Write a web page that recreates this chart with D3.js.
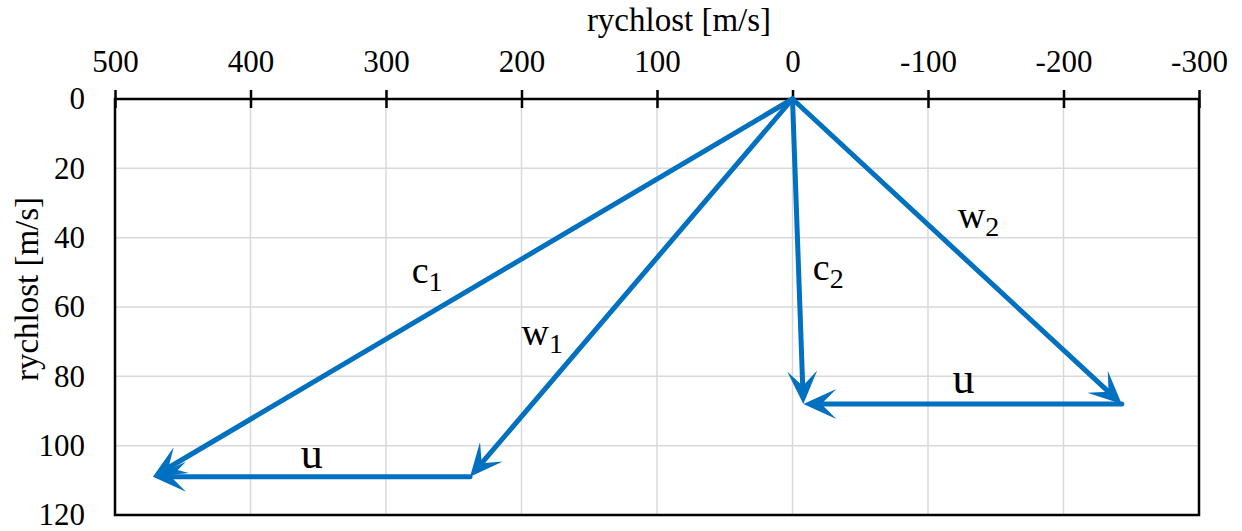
<!DOCTYPE html>
<html>
<head>
<meta charset="utf-8">
<script src="https://cdn.jsdelivr.net/npm/d3@7"></script>
<style>
  body { margin: 0; background: #fff; }
  svg { display: block; font-family: "Liberation Serif", "Times New Roman", serif; }
  svg text { font-family: "Liberation Serif", "Times New Roman", serif; }
</style>
</head>
<body>
<div id="chart"></div>
<script>
// axis ticks
const xTicks = [500, 400, 300, 200, 100, 0, -100, -200, -300];
const yTicks = [0, 20, 40, 60, 80, 100, 120];

// vectors [x1, y1, x2, y2]
const vectorNames = ["c1", "w1", "u1", "c2", "w2", "u2"];
const vectorX1 = [0, 0, 238, 0, 0, -243];
const vectorY1 = [0, 0, 109, 0, 0, 88];
const vectorX2 = [472, 238, 472, -8, -243, -8];
const vectorY2 = [109, 109, 109, 88, 88, 88];

// text labels
const labelMain = ["c", "w", "u", "c", "w", "u"];
const labelSub = ["1", "1", "", "2", "2", ""];
const labelX = [281, 200, 363, -15, -122, -118];
const labelY = [53, 71, 106.4, 52.2, 37.2, 84.8];

const W = 1242, H = 531;
const margin = {top: 99, right: 43, bottom: 16, left: 115};
const blue = "#0070c0";
const serif = "'Liberation Serif', 'Times New Roman', serif";

const svg = d3.select("#chart").append("svg")
    .attr("width", W)
    .attr("height", H);

const x = d3.scaleLinear().domain([500, -300]).range([margin.left, W - margin.right]);
const y = d3.scaleLinear().domain([0, 120]).range([margin.top, H - margin.bottom]);

// grid
svg.append("g").selectAll("line.vg")
    .data(xTicks.slice(1, -1))
    .enter().append("line")
    .attr("x1", d => x(d)).attr("x2", d => x(d))
    .attr("y1", y(0)).attr("y2", y(120))
    .attr("stroke", "#d9d9d9").attr("stroke-width", 1.5);

svg.append("g").selectAll("line.hg")
    .data(yTicks.slice(1, -1))
    .enter().append("line")
    .attr("x1", x(500)).attr("x2", x(-300))
    .attr("y1", d => y(d)).attr("y2", d => y(d))
    .attr("stroke", "#d9d9d9").attr("stroke-width", 1.5);

// frame
svg.append("rect")
    .attr("x", x(500)).attr("y", y(0))
    .attr("width", x(-300) - x(500))
    .attr("height", y(120) - y(0))
    .attr("fill", "none")
    .attr("stroke", "#000")
    .attr("stroke-width", 2.5);

// top axis
const xAxis = svg.append("g")
    .attr("transform", `translate(0,${y(0)})`)
    .call(d3.axisTop(x).tickValues(xTicks).tickSize(9).tickPadding(18).tickFormat(d => String(d)))
    .attr("font-family", serif)
    .attr("font-size", 31);
xAxis.select(".domain").remove();
xAxis.selectAll("line").attr("stroke", "#000").attr("stroke-width", 2.5);
xAxis.selectAll("text").attr("fill", "#000");

const xAxisIn = svg.append("g")
    .attr("transform", `translate(0,${y(0)})`)
    .call(d3.axisTop(x).tickValues(xTicks).tickSize(-9).tickFormat(""));
xAxisIn.select(".domain").remove();
xAxisIn.selectAll("line").attr("stroke", "#000").attr("stroke-width", 2.5);

// left axis
const yAxis = svg.append("g")
    .attr("transform", `translate(${x(500)},0)`)
    .call(d3.axisLeft(y).tickValues(yTicks).tickSize(0).tickPadding(30))
    .attr("font-family", serif)
    .attr("font-size", 31);
yAxis.select(".domain").remove();
yAxis.selectAll("text").attr("fill", "#000");

// axis titles
svg.append("text")
    .attr("x", 679).attr("y", 31)
    .attr("text-anchor", "middle")
    .attr("font-size", 33)
    .text("rychlost [m/s]");

svg.append("text")
    .attr("transform", `translate(38,${289}) rotate(-90)`)
    .attr("text-anchor", "middle")
    .attr("font-size", 33)
    .text("rychlost [m/s]");

// arrow head
svg.append("defs").append("marker")
    .attr("id", "arrow")
    .attr("markerUnits", "userSpaceOnUse")
    .attr("viewBox", "-34 -17 36 34")
    .attr("refX", -16).attr("refY", 0)
    .attr("markerWidth", 36).attr("markerHeight", 34)
    .attr("orient", "auto")
    .append("path")
    .attr("d", "M0,0 L-33,-15 L-18,0 L-33,15 Z")
    .attr("fill", blue);

const vectors = vectorNames.map((n, i) => ({
    name: n, x1: vectorX1[i], y1: vectorY1[i], x2: vectorX2[i], y2: vectorY2[i]
}));

// shorten each line so its end sits inside the arrow head
function endPoint(d) {
    const dx = x(d.x2) - x(d.x1), dy = y(d.y2) - y(d.y1);
    const len = Math.sqrt(dx * dx + dy * dy);
    return [x(d.x2) - dx / len * 16, y(d.y2) - dy / len * 16];
}

svg.append("g").selectAll("line.vec")
    .data(vectors)
    .enter().append("line")
    .attr("class", "vec")
    .attr("x1", d => x(d.x1)).attr("y1", d => y(d.y1))
    .attr("x2", d => endPoint(d)[0])
    .attr("y2", d => endPoint(d)[1])
    .attr("stroke", blue)
    .attr("stroke-width", 5)
    .attr("stroke-linecap", "round")
    .attr("marker-end", "url(#arrow)");

// vector labels
const lbl = svg.append("g").selectAll("text.lbl")
    .data(labelMain.map((m, i) => ({m: m, s: labelSub[i], x: labelX[i], y: labelY[i]})))
    .enter().append("text")
    .attr("x", d => x(d.x)).attr("y", d => y(d.y))
    .attr("font-size", d => d.m === "u" ? 44 : 38)
    .attr("fill", "#000");

lbl.append("tspan").text(d => d.m);
lbl.filter(d => d.s).append("tspan")
    .attr("dy", 8)
    .attr("font-size", 28)
    .text(d => d.s);
</script>
</body>
</html>
